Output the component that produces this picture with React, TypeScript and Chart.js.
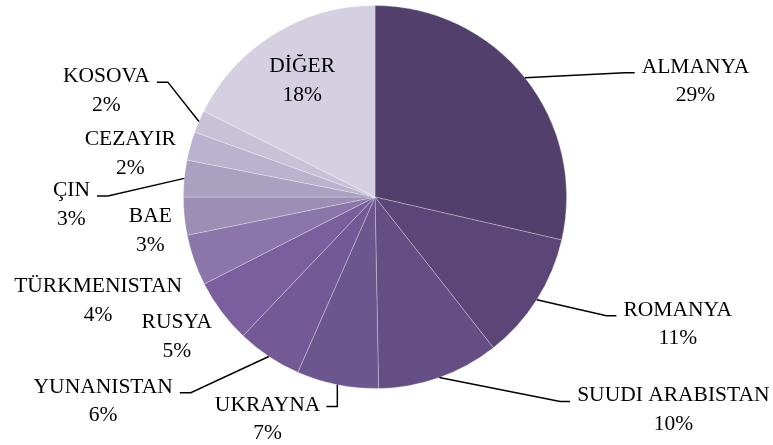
import React, { useEffect, useRef } from "react";
import { Chart, registerables } from "chart.js";

Chart.register(...registerables);

const categories = [
  "ALMANYA",
  "ROMANYA",
  "SUUDI ARABISTAN",
  "UKRAYNA",
  "YUNANISTAN",
  "RUSYA",
  "TÜRKMENISTAN",
  "BAE",
  "ÇIN",
  "CEZAYIR",
  "KOSOVA",
  "DİĞER",
];

const shares = [28.6, 10.8, 10.3, 6.9, 5.5, 5.4, 4.3, 3.2, 3.1, 2.4, 1.9, 17.6];

const percentLabels = ["29%", "11%", "10%", "7%", "6%", "5%", "4%", "3%", "3%", "2%", "2%", "18%"];

const sliceColors = [
  "#523F6B",
  "#5C4677",
  "#644E84",
  "#6C568E",
  "#735A96",
  "#7B5E9D",
  "#8A76A8",
  "#9C8EB5",
  "#AAA0C0",
  "#BBB2CF",
  "#C8C1D8",
  "#D5D0E1",
];

// label placement relative to the slice's outer mid-point (layout only)
type Leader = "none" | "right" | "left" | "down-left";
const labelLayout: { dx: number; dy: number; leader: Leader }[] = [
  { dx: 170.5, dy: -12, leader: "right" },
  { dx: 141, dy: 9, leader: "right" },
  { dx: 234, dy: 17, leader: "right" },
  { dx: -69.7, dy: 18.7, leader: "down-left" },
  { dx: -165.6, dy: 29.2, leader: "left" },
  { dx: -44.6, dy: 9.9, leader: "none" },
  { dx: -96, dy: 25, leader: "none" },
  { dx: -34, dy: -0.8, leader: "none" },
  { dx: -112.9, dy: 10.7, leader: "left" },
  { dx: -60, dy: -7.8, leader: "none" },
  { dx: -92.5, dy: -46.3, leader: "left" },
  { dx: 27.8, dy: 31.4, leader: "none" },
];

const FONT = "21.5px 'Liberation Serif', 'Times New Roman', serif";
const LINE_GAP = 28.5;

const labelPlugin = {
  id: "pieLabels",
  afterDatasetsDraw(chart: any) {
    const ctx: CanvasRenderingContext2D = chart.ctx;
    const meta = chart.getDatasetMeta(0);
    ctx.save();
    ctx.font = FONT;
    ctx.fillStyle = "#000";
    ctx.strokeStyle = "#000";
    ctx.lineWidth = 1.5;
    ctx.textAlign = "center";
    ctx.textBaseline = "alphabetic";
    meta.data.forEach((arc: any, i: number) => {
      const p = arc.getProps(["x", "y", "startAngle", "endAngle", "outerRadius"], true);
      const mid = (p.startAngle + p.endAngle) / 2;
      const ax = p.x + Math.cos(mid) * p.outerRadius;
      const ay = p.y + Math.sin(mid) * p.outerRadius;
      const lay = labelLayout[i];
      const cx = ax + lay.dx;
      const cy = ay + lay.dy;
      const name = categories[i];
      const w = ctx.measureText(name).width;
      ctx.fillText(name, cx, cy + 7);
      ctx.fillText(percentLabels[i], cx, cy + LINE_GAP + 7);

      if (lay.leader !== "none") {
        ctx.beginPath();
        ctx.moveTo(ax, ay);
        if (lay.leader === "right") {
          const ex = cx - w / 2 - 7;
          const ey = cy + 7;
          ctx.lineTo(ex - 10, ey);
          ctx.lineTo(ex, ey);
        } else if (lay.leader === "left") {
          const ex = cx + w / 2 + 7;
          const ey = cy + 7;
          ctx.lineTo(ex + 11, ey);
          ctx.lineTo(ex, ey);
        } else {
          const ex = cx + w / 2 + 6;
          const ey = cy + 3;
          ctx.lineTo(ax, ey);
          ctx.lineTo(ex, ey);
        }
        ctx.stroke();
      }
    });
    ctx.restore();
  },
};

export default function App() {
  const canvasRef = useRef<HTMLCanvasElement | null>(null);

  useEffect(() => {
    document.body.style.margin = "0";
    const canvas = canvasRef.current;
    if (!canvas) return;
    const chart = new Chart(canvas, {
      type: "pie",
      data: {
        labels: categories,
        datasets: [
          {
            data: shares,
            backgroundColor: sliceColors,
            borderColor: "rgba(255,255,255,0.35)",
            borderWidth: 0.8,
          },
        ],
      },
      options: {
        responsive: false,
        animation: false,
        devicePixelRatio: 1,
        layout: { padding: { top: 5, bottom: 56, left: 183, right: 206 } },
        plugins: {
          legend: { display: false },
          tooltip: { enabled: false },
        },
      },
      plugins: [labelPlugin],
    });
    return () => chart.destroy();
  }, []);

  return (
    <div style={{ width: 773, height: 445, background: "#fff" }}>
      <canvas ref={canvasRef} width={773} height={445} />
    </div>
  );
}
